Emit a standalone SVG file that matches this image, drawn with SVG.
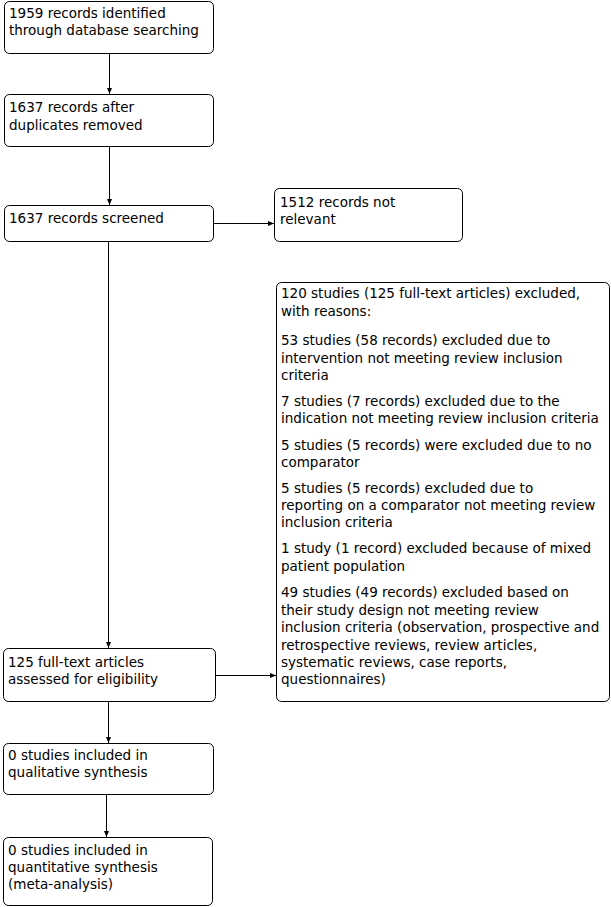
<svg xmlns="http://www.w3.org/2000/svg" width="611" height="907" viewBox="0 0 611 907">
<style>
.box{fill:#fff;stroke:#000;stroke-width:1}
text{font-family:"DejaVu Sans",Verdana,sans-serif;font-size:13.5px;fill:#000}
.c{stroke:#000;stroke-width:1;fill:none;marker-end:url(#ah)}
</style>
<defs>
<marker id="ah" markerUnits="userSpaceOnUse" markerWidth="8" markerHeight="8" refX="6" refY="3" orient="auto">
<path d="M0,0.5 L6,3 L0,5.5 Z" fill="#000"/>
</marker>
</defs>
<rect width="611" height="907" fill="#fff"/>
<g id="connectors">
<path class="c" d="M109.5,53 V94"/>
<path class="c" d="M109.5,147 V205"/>
<path class="c" d="M108.5,242 V648"/>
<path class="c" d="M108.5,702 V743"/>
<path class="c" d="M106.5,794 V837"/>
<path class="c" d="M213,223.5 H274"/>
<path class="c" d="M215,675.5 H276"/>
</g>
<g id="n1"><rect class="box" x="4.5" y="1.5" width="209" height="52" rx="5"/>
<text x="9" y="18">1959 records identified</text><text x="9" y="35">through database searching</text></g>
<g id="n2"><rect class="box" x="4.5" y="94.5" width="209" height="52" rx="5"/>
<text x="9" y="112">1637 records after</text><text x="9" y="130">duplicates removed</text></g>
<g id="n3"><rect class="box" x="4.5" y="205.5" width="209" height="36" rx="5"/>
<text x="9" y="223">1637 records screened</text></g>
<g id="n4"><rect class="box" x="274.5" y="188.5" width="188" height="53" rx="5"/>
<text x="280" y="207">1512 records not</text><text x="280" y="224">relevant</text></g>
<g id="n5"><rect class="box" x="276.5" y="282.5" width="333" height="419" rx="5"/>
<text x="281" y="298">120 studies (125 full-text articles) excluded,</text>
<text x="281" y="316">with reasons:</text>
<text x="281" y="345">53 studies (58 records) excluded due to</text>
<text x="281" y="363">intervention not meeting review inclusion</text>
<text x="281" y="380">criteria</text>
<text x="281" y="406">7 studies (7 records) excluded due to the</text>
<text x="281" y="423">indication not meeting review inclusion criteria</text>
<text x="281" y="450">5 studies (5 records) were excluded due to no</text>
<text x="281" y="467">comparator</text>
<text x="281" y="493">5 studies (5 records) excluded due to</text>
<text x="281" y="510">reporting on a comparator not meeting review</text>
<text x="281" y="527">inclusion criteria</text>
<text x="281" y="553">1 study (1 record) excluded because of mixed</text>
<text x="281" y="571">patient population</text>
<text x="281" y="597">49 studies (49 records) excluded based on</text>
<text x="281" y="615">their study design not meeting review</text>
<text x="281" y="632">inclusion criteria (observation, prospective and</text>
<text x="281" y="650">retrospective reviews, review articles,</text>
<text x="281" y="667">systematic reviews, case reports,</text>
<text x="281" y="684">questionnaires)</text></g>
<g id="n6"><rect class="box" x="3.5" y="648.5" width="212" height="53" rx="5"/>
<text x="8" y="667">125 full-text articles</text><text x="8" y="684">assessed for eligibility</text></g>
<g id="n7"><rect class="box" x="3.5" y="743.5" width="210" height="51" rx="5"/>
<text x="8" y="760">0 studies included in</text><text x="8" y="777">qualitative synthesis</text></g>
<g id="n8"><rect class="box" x="3.5" y="837.5" width="209" height="68" rx="5"/>
<text x="8" y="855">0 studies included in</text><text x="8" y="872">quantitative synthesis</text><text x="8" y="889">(meta-analysis)</text></g>
</svg>
